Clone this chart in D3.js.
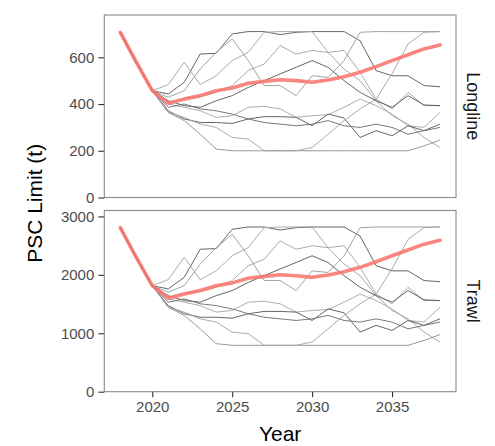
<!DOCTYPE html>
<html>
<head>
<meta charset="utf-8">
<script src="https://cdn.jsdelivr.net/npm/d3@7"></script>
<style>
  html, body { margin: 0; padding: 0; background: #fff; }
  svg { display: block; font-family: "Liberation Sans", Arial, sans-serif; }
</style>
</head>
<body>
<svg id="chart" width="495" height="446"></svg>
<script>
// ---------------- data ----------------
const years = [2018,2019,2020,2021,2022,2023,2024,2025,2026,2027,2028,2029,2030,2031,2032,2033,2034,2035,2036,2037,2038];
const fleets = ["Longline", "Trawl"];
const xTicks = [2020, 2025, 2030, 2035];
const longlineTicks = [0, 200, 400, 600];
const trawlTicks = [0, 1000, 2000, 3000];

// Longline PSC limit (t): simulated trajectories
const longlineSims = [
  [707,579,457,443,493,614,617,700,710,710,697,707,710,710,710,671,543,521,521,479,474],
  [707,579,457,483,579,483,521,586,621,707,710,710,710,621,550,500,414,350,314,257,214],
  [707,579,457,407,426,431,450,479,543,571,650,614,629,621,629,536,421,379,450,393,393],
  [707,579,457,429,457,550,621,679,586,479,479,436,521,514,586,707,710,710,710,710,710],
  [707,579,457,400,386,371,343,350,386,390,379,343,350,354,386,421,393,357,307,300,364],
  [707,579,457,371,336,321,321,317,336,346,346,343,307,357,340,257,286,264,307,286,314],
  [707,579,457,364,329,271,207,200,200,200,200,200,200,200,200,200,200,200,200,221,246],
  [707,579,457,364,343,314,300,257,250,200,200,200,214,271,329,379,421,529,657,707,710],
  [707,579,457,414,393,386,414,436,471,500,529,557,586,557,500,450,414,386,436,396,393],
  [707,579,457,386,400,379,371,357,336,321,314,307,314,329,307,300,314,300,271,286,300]
];
const longlineRef = [707,579,457,403,421,436,457,469,489,497,504,500,493,503,517,536,560,586,611,636,653];

// Trawl PSC limit (t): simulated trajectories
const trawlSims = [
  [2807,2299,1814,1759,1957,2438,2449,2779,2819,2819,2767,2807,2819,2819,2819,2664,2156,2068,2068,1902,1882],
  [2807,2299,1814,1918,2299,1918,2068,2326,2465,2807,2819,2819,2819,2465,2184,1985,1644,1390,1247,1020,850],
  [2807,2299,1814,1616,1691,1711,1787,1902,2156,2267,2581,2438,2497,2465,2497,2128,1671,1505,1787,1560,1560],
  [2807,2299,1814,1703,1814,2184,2465,2696,2326,1902,1902,1731,2068,2041,2326,2807,2819,2819,2819,2819,2819],
  [2807,2299,1814,1588,1532,1473,1362,1390,1532,1548,1505,1362,1390,1405,1532,1671,1560,1417,1219,1191,1445],
  [2807,2299,1814,1473,1334,1274,1274,1258,1334,1374,1374,1362,1219,1417,1350,1020,1135,1048,1219,1135,1247],
  [2807,2299,1814,1445,1306,1076,822,794,794,794,794,794,794,794,794,794,794,794,794,877,977],
  [2807,2299,1814,1445,1362,1247,1191,1020,993,794,794,794,850,1076,1306,1505,1671,2100,2608,2807,2819],
  [2807,2299,1814,1644,1560,1532,1644,1731,1870,1985,2100,2211,2326,2211,1985,1787,1644,1532,1731,1572,1560],
  [2807,2299,1814,1532,1588,1505,1473,1417,1334,1274,1247,1219,1247,1306,1219,1191,1247,1191,1076,1135,1191]
];
const trawlRef = [2807,2299,1814,1600,1671,1731,1814,1862,1941,1973,2001,1985,1957,1997,2052,2128,2223,2326,2426,2525,2592];

const simColors = ["#555555","#a0a0a0","#a0a0a0","#9a9a9a","#a3a3a3","#555555","#8c8c8c","#a0a0a0","#555555","#6a6a6a"];

// ---------------- layout ----------------
const svg = d3.select("#chart");
const left = 104.3, right = 456;
const panels = [
  { name: fleets[0], top: 15, bottom: 197.5, sims: longlineSims, ref: longlineRef, ticks: longlineTicks },
  { name: fleets[1], top: 210.5, bottom: 391.7, sims: trawlSims, ref: trawlRef, ticks: trawlTicks }
];

const x = d3.scaleLinear().domain([2017, 2039]).range([left, right]);

panels.forEach((p, pi) => {
  const maxVal = d3.max([d3.max(p.sims, s => d3.max(s)), d3.max(p.ref)]);
  const y = d3.scaleLinear().domain([0, maxVal * 1.1]).range([p.bottom, p.top]);
  const g = svg.append("g");

  // panel background
  g.append("rect").attr("x", left).attr("y", p.top)
    .attr("width", right - left).attr("height", p.bottom - p.top)
    .attr("fill", "#fff");

  const clipId = "clip" + pi;
  svg.append("clipPath").attr("id", clipId).append("rect")
    .attr("x", left).attr("y", p.top).attr("width", right - left).attr("height", p.bottom - p.top);

  const line = d3.line().x((d, i) => x(years[i])).y(d => y(d));
  const lines = g.append("g").attr("clip-path", `url(#${clipId})`);

  p.sims.forEach((s, si) => {
    lines.append("path").datum(s)
      .attr("d", line)
      .attr("fill", "none")
      .attr("stroke", simColors[si % simColors.length])
      .attr("stroke-width", 0.9)
      .attr("stroke-linejoin", "round");
  });

  lines.append("path").datum(p.ref)
    .attr("d", line)
    .attr("fill", "none")
    .attr("stroke", "#F8766D")
    .attr("stroke-opacity", 0.88)
    .attr("stroke-width", 3.6)
    .attr("stroke-linejoin", "round")
    .attr("stroke-linecap", "round");

  // panel border
  g.append("rect").attr("x", left).attr("y", p.top)
    .attr("width", right - left).attr("height", p.bottom - p.top)
    .attr("fill", "none").attr("stroke", "#8a8a8a").attr("stroke-width", 1.1);

  // y axis
  const yAxis = d3.axisLeft(y).tickValues(p.ticks).tickSize(6).tickPadding(4).tickFormat(d3.format("d"));
  const ya = g.append("g").attr("transform", `translate(${left},0)`).call(yAxis);
  ya.select(".domain").remove();
  ya.selectAll(".tick line").attr("stroke", "#333").attr("stroke-width", 1.1);
  ya.selectAll(".tick text").attr("fill", "#4d4d4d").style("font-size", "15px")
    .style("font-family", "'Liberation Sans', Arial, sans-serif");

  // strip label (right side, rotated)
  g.append("text")
    .attr("transform", `translate(473,${(p.top + p.bottom) / 2}) rotate(90)`)
    .attr("text-anchor", "middle").attr("dy", "0.35em")
    .attr("fill", "#1a1a1a").style("font-size", "18px")
    .text(p.name);

  if (pi === panels.length - 1) {
    const xAxis = d3.axisBottom(x).tickValues(xTicks).tickSize(5.5).tickPadding(4).tickFormat(d3.format("d"));
    const xa = g.append("g").attr("transform", `translate(0,${p.bottom})`).call(xAxis);
    xa.select(".domain").remove();
    xa.selectAll(".tick line").attr("stroke", "#333").attr("stroke-width", 1.1);
    xa.selectAll(".tick text").attr("fill", "#4d4d4d").style("font-size", "15px")
      .style("font-family", "'Liberation Sans', Arial, sans-serif");
  }
});

// axis titles
svg.append("text")
  .attr("x", (left + right) / 2).attr("y", 441)
  .attr("text-anchor", "middle").attr("fill", "#000")
  .style("font-size", "21px").text("Year");

svg.append("text")
  .attr("transform", `translate(35,${(15 + 391.7) / 2}) rotate(-90)`)
  .attr("text-anchor", "middle").attr("dy", "0.35em").attr("fill", "#000")
  .style("font-size", "21px").text("PSC Limit (t)");
</script>
</body>
</html>
